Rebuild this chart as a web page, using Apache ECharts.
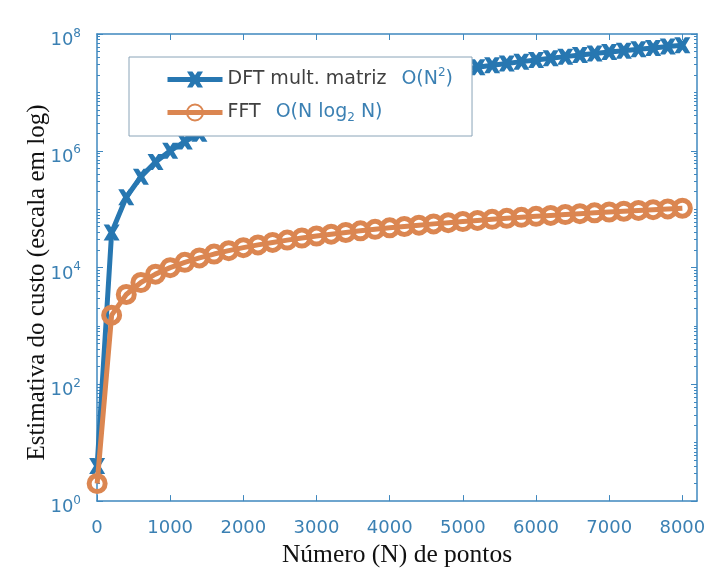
<!DOCTYPE html>
<html>
<head>
<meta charset="utf-8">
<script src="https://cdn.jsdelivr.net/npm/echarts@6/dist/echarts.min.js"></script>
<style>html,body{margin:0;padding:0;background:#fff;}#c{width:723px;height:573px;}</style>
</head>
<body>
<div id="c"></div>
<script>
const N = [2, 200, 400, 600, 800, 1000, 1200, 1400, 1600, 1800, 2000, 2200, 2400, 2600, 2800, 3000, 3200, 3400, 3600, 3800, 4000, 4200, 4400, 4600, 4800, 5000, 5200, 5400, 5600, 5800, 6000, 6200, 6400, 6600, 6800, 7000, 7200, 7400, 7600, 7800, 8000];
const dftCost = [4, 40000, 160000, 360000, 640000, 1000000, 1440000, 1960000, 2560000, 3240000, 4000000, 4840000, 5760000, 6760000, 7840000, 9000000, 10240000, 11560000, 12960000, 14440000, 16000000, 17640000, 19360000, 21160000, 23040000, 25000000, 27040000, 29160000, 31360000, 33640000, 36000000, 38440000, 40960000, 43560000, 46240000, 49000000, 51840000, 54760000, 57760000, 60840000, 64000000];
const fftCost = [2, 1529, 3458, 5537, 7715, 9966, 12275, 14632, 17030, 19465, 21932, 24427, 26949, 29495, 32063, 34652, 37260, 39887, 42530, 45189, 47863, 50552, 53255, 55970, 58698, 61439, 64190, 66953, 69727, 72510, 75304, 78108, 80921, 83743, 86573, 89412, 92259, 95114, 97978, 100848, 103726];
const xTicks = [0, 1000, 2000, 3000, 4000, 5000, 6000, 7000, 8000];
const yMajorTicks = [1, 100, 10000, 1000000, 100000000];
const seriesNames = ['DFT', 'FFT'];

// log minor tick positions (2..9 × each decade, plus odd decades)
const yMinorTicks = [];
for (let d = 1; d < 1e8; d *= 10) {
  for (let m = 1; m <= 9; m++) {
    const v = d * m;
    if (yMajorTicks.indexOf(v) < 0) yMinorTicks.push(v);
  }
}

const BLUE = '#2777b1';
const ORANGE = '#db8651';
const AXIS = '#3f88bf';
const LABEL = '#3b80b3';
const xShape = 'path://M0,0 L3.4,0 L5,2.3 L6.6,0 L10,0 L7,5 L10,10 L6.6,10 L5,7.7 L3.4,10 L0,10 L3,5 Z';

const chart = echarts.init(document.getElementById('c'), null, {renderer: 'canvas'});
function yAxisBase(position, ticks, len, showLine) {
  return {
    type: 'log', logBase: 10, min: 1, max: 1e8, position: position,
    axisLine: {show: showLine, lineStyle: {color: AXIS, width: 1.5}},
    axisTick: {show: true, inside: true, length: len, customValues: ticks, lineStyle: {color: AXIS, width: 1}},
    axisLabel: {show: false},
    splitLine: {show: false}
  };
}
const yMain = yAxisBase('left', yMajorTicks, 6, true);
yMain.name = 'Estimativa do custo (escala em log)';
yMain.nameLocation = 'middle';
yMain.nameGap = 47;
yMain.nameMoveOverlap = false;
yMain.nameTextStyle = {fontFamily: 'Liberation Serif', fontSize: 25, color: '#111', padding: [0, 30, 0, 0]};
yMain.axisLabel = {
  show: true, margin: 16, customValues: yMajorTicks,
  padding: [13, 0, 0, 0],
  formatter: function (v) {
    const e = Math.round(Math.log10(v));
    return '{b|10}{s|' + e + '}';
  },
  rich: {
    b: {fontFamily: 'DejaVu Sans', fontSize: 18, color: LABEL},
    s: {fontFamily: 'DejaVu Sans', fontSize: 12, color: LABEL, padding: [0, 0, 14, 0]}
  }
};

chart.setOption({
  animation: false,
  backgroundColor: '#fff',
  grid: {left: 97, right: 26, top: 34, bottom: 69, containLabel: false},
  legend: {
    left: 129, top: 57,
    orient: 'vertical',
    backgroundColor: '#fff',
    borderColor: '#8aa4b8', borderWidth: 1, borderRadius: 0,
    padding: [10, 19, 12, 36],
    itemGap: 14,
    itemWidth: 55, itemHeight: 20,
    data: seriesNames,
    lineStyle: {width: 5},
    formatter: function (name) {
      if (name === 'DFT') return '{a|DFT mult. matriz}{o|O(N}{s|2}{b|)}';
      return '{a|FFT}{o|O(N log}{d|2}{b| N)}';
    },
    textStyle: {
      rich: {
        a: {fontFamily: 'DejaVu Sans', fontSize: 19, color: '#404040'},
        o: {fontFamily: 'DejaVu Sans', fontSize: 19, color: LABEL, padding: [0, 0, 0, 15]},
        b: {fontFamily: 'DejaVu Sans', fontSize: 19, color: LABEL},
        s: {fontFamily: 'DejaVu Sans', fontSize: 12, color: LABEL, padding: [0, 0, 13, 0]},
        d: {fontFamily: 'DejaVu Sans', fontSize: 12, color: LABEL, padding: [11, 0, 0, 0]}
      }
    }
  },
  xAxis: [{
    type: 'value', min: 0, max: 8200, interval: 1000,
    name: 'Número (N) de pontos', nameLocation: 'middle', nameGap: 36,
    nameTextStyle: {fontFamily: 'Liberation Serif', fontSize: 25.5, color: '#111'},
    axisLine: {show: true, lineStyle: {color: AXIS, width: 1.5}},
    axisTick: {show: true, inside: true, length: 6, customValues: xTicks, lineStyle: {color: AXIS}},
    axisLabel: {
      fontFamily: 'DejaVu Sans', fontSize: 18, color: LABEL, margin: 18,
      customValues: xTicks,
      formatter: function (v) { return String(v); }
    },
    splitLine: {show: false}
  }, {
    type: 'value', position: 'top', min: 0, max: 8200, interval: 1000,
    axisLine: {show: true, lineStyle: {color: AXIS, width: 1.5}},
    axisTick: {show: true, inside: true, length: 6, customValues: xTicks, lineStyle: {color: AXIS}},
    axisLabel: {show: false},
    splitLine: {show: false}
  }],
  yAxis: [
    yMain,
    yAxisBase('left', yMinorTicks, 3, false),
    yAxisBase('right', yMajorTicks, 6, true),
    yAxisBase('right', yMinorTicks, 3, false)
  ],
  series: [{
    name: 'DFT', type: 'line',
    data: N.map((n, i) => [n, dftCost[i]]),
    symbol: xShape, symbolSize: 16,
    lineStyle: {color: BLUE, width: 5},
    itemStyle: {color: BLUE},
    z: 2
  }, {
    name: 'FFT', type: 'line',
    data: N.map((n, i) => [n, fftCost[i]]),
    symbol: 'circle', symbolSize: 16,
    lineStyle: {color: ORANGE, width: 5},
    itemStyle: {color: 'rgba(255,255,255,0)', borderColor: ORANGE, borderWidth: 5},
    z: 3
  }]
});
</script>
</body>
</html>
